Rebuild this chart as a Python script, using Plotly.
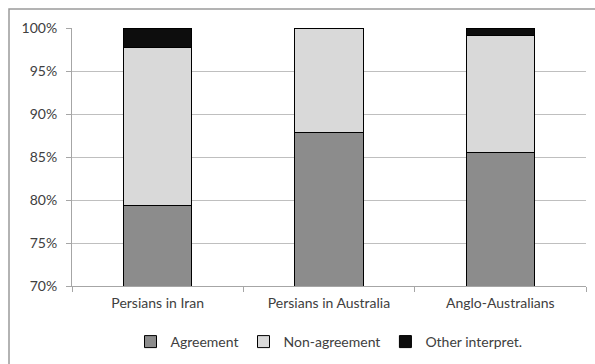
import plotly.graph_objects as go

# Response shares per group (percent)
categories = ["Persians in Iran", "Persians in Australia", "Anglo-Australians"]
agreement = [79.4, 87.8, 85.5]
non_agreement = [18.3, 12.2, 13.6]
other_interpret = [2.3, 0.0, 0.9]

y_ticks = [70, 75, 80, 85, 90, 95, 100]

series = [
    ("Agreement", agreement, "#8c8c8c"),
    ("Non-agreement", non_agreement, "#d9d9d9"),
    ("Other interpret.", other_interpret, "#0d0d0d"),
]

fig = go.Figure()
for name, values, color in series:
    fig.add_trace(go.Bar(
        x=categories,
        y=values,
        name=name,
        marker=dict(color=color, line=dict(color="#000000", width=1)),
    ))

W, H = 595, 364
L, R, T, B = 72, 9, 28, 78
pw, ph = W - L - R, H - T - B

fig.update_layout(
    width=W,
    height=H,
    barmode="stack",
    bargap=0.6,
    margin=dict(l=L, r=R, t=T, b=B, autoexpand=False),
    paper_bgcolor="white",
    plot_bgcolor="white",
    font=dict(family="Lato, Open Sans, sans-serif", size=13, color="#404040"),
    showlegend=True,
    legend=dict(
        orientation="h",
        x=0.5,
        xanchor="center",
        yref="container",
        y=1 - 342 / H,
        yanchor="middle",
        font=dict(size=14, color="#404040"),
        itemwidth=30,
        traceorder="normal",
    ),
    xaxis=dict(
        automargin=False,
        showline=True,
        linecolor="#a6a6a6",
        linewidth=1,
        ticks="outside",
        tickson="boundaries",
        ticklen=5,
        tickcolor="#a6a6a6",
        showgrid=False,
        ticklabelstandoff=4,
        tickfont=dict(size=14, color="#404040"),
    ),
    yaxis=dict(
        automargin=False,
        range=[70, 100],
        tickvals=y_ticks,
        ticktext=[f"{v}%" for v in y_ticks],
        showline=True,
        linecolor="#a6a6a6",
        linewidth=1,
        ticks="outside",
        ticklen=5,
        tickcolor="#a6a6a6",
        showgrid=True,
        gridcolor="#bfbfbf",
        gridwidth=1,
        zeroline=False,
        ticklabelstandoff=6,
        tickfont=dict(size=14, color="#404040"),
    ),
    shapes=[
        dict(
            type="rect",
            xref="paper",
            yref="paper",
            x0=(9 - L) / pw,
            x1=1.2,
            y0=-1.0,
            y1=1 + 19 / ph,
            line=dict(color="#9a9a9a", width=1.5),
            fillcolor="rgba(0,0,0,0)",
            layer="below",
        )
    ],
)

fig.write_html("out.html")
